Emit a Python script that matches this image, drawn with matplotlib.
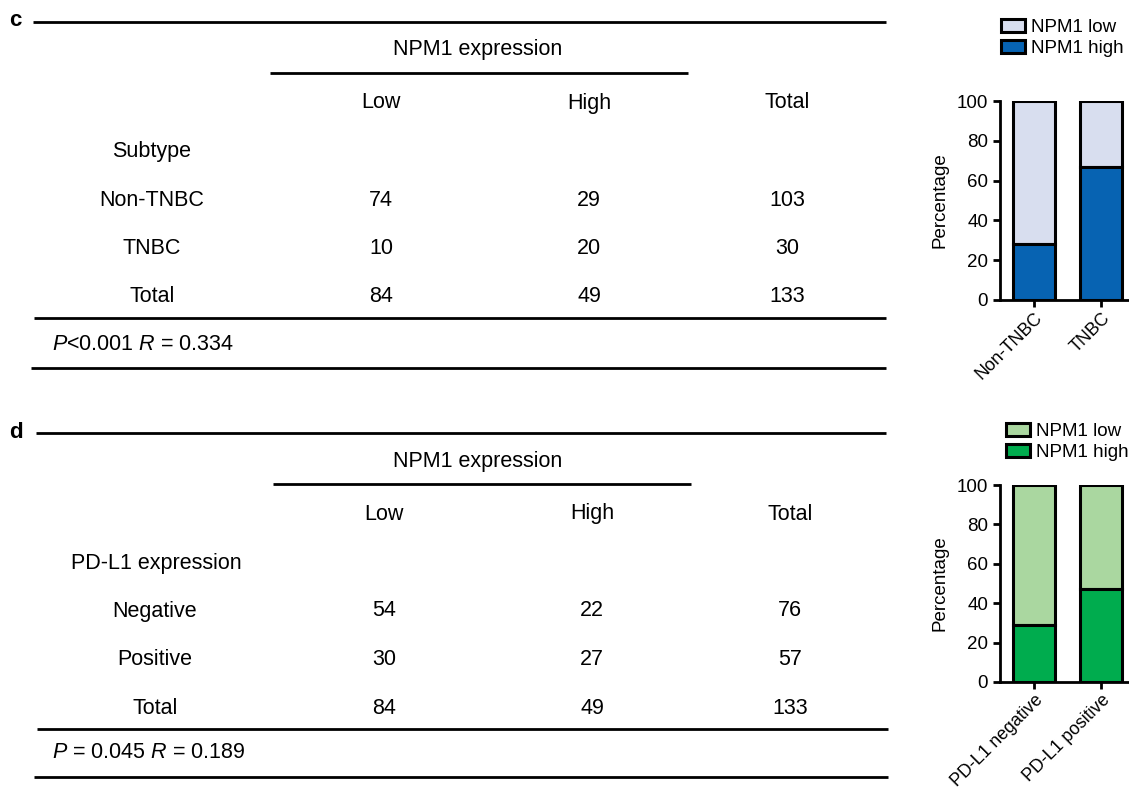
import matplotlib
matplotlib.use('Agg')
from matplotlib import pyplot as plt

plt.rcParams['font.family'] = ['Liberation Sans', 'DejaVu Sans']
plt.rcParams['font.size'] = 15.5
plt.rcParams['mathtext.fontset'] = 'custom'
plt.rcParams['mathtext.rm'] = 'Liberation Sans'
plt.rcParams['mathtext.it'] = 'Liberation Sans:italic'

# ---- data ----
col_labels = ['Low', 'High', 'Total']

c_group_title = 'Subtype'
c_rows = ['Non-TNBC', 'TNBC', 'Total']
c_low = [74, 10, 84]
c_high = [29, 20, 49]
c_total = [103, 30, 133]
c_stats = ('<0.001', '0.334')

d_group_title = 'PD-L1 expression'
d_rows = ['Negative', 'Positive', 'Total']
d_low = [54, 30, 84]
d_high = [22, 27, 49]
d_total = [76, 57, 133]
d_stats = (' = 0.045', '0.189')

c_bar_cats = ['Non-TNBC', 'TNBC']
c_pct_high = [28.2, 66.7]
c_pct_low = [71.8, 33.3]

d_bar_cats = ['PD-L1 negative', 'PD-L1 positive']
d_pct_high = [28.9, 47.4]
d_pct_low = [71.1, 52.6]

W, H = 1129, 790
fig = plt.figure(figsize=(W / 100, H / 100), dpi=100)
tab = fig.add_axes([0, 0, 1, 1])
tab.set_xlim(0, W)
tab.set_ylim(H, 0)
tab.axis('off')

LW = 2.0
SMALL = 13.5
BASE = 7.5  # from visual middle of capitals to baseline, px


def hline(y, x0, x1):
    tab.plot([x0, x1], [y, y], color='black', lw=LW, solid_capstyle='butt')


def txt(x, y, s, **kw):
    # y is the middle of the capital letters
    tab.text(x, y + BASE, s, va='baseline', **kw)


def draw_table(top, letter, group_title, row_names, lows, highs, totals, dx):
    # top = y of the top rule
    tab.text(9, top - 1, letter, fontsize=16, fontweight='bold', ha='left', va='center')
    hline(top, 33 + dx, 886)
    txt(478, top + 26, 'NPM1 expression', ha='center')
    hline(top + 51, 270 + dx, 688 + dx)
    col_x = [381 + dx, 589 + dx, 787 + dx]
    for x, lab in zip(col_x, col_labels):
        txt(x, top + 79, lab, ha='center')
    txt(152 + (4 if dx else 0), top + 128, group_title, ha='center')
    for i, name in enumerate(row_names):
        y = top + 176 + i * 48.5
        txt(152 + (3 if dx else 0), y, name, ha='center')
        for x, v in zip(col_x, [lows[i], highs[i], totals[i]]):
            txt(x, y, str(v), ha='center')


# panel c
draw_table(22, 'c', c_group_title, c_rows, c_low, c_high, c_total, 0)
hline(318, 34, 886)
txt(52, 343, r'$\it{P}$' + c_stats[0] + r' $\it{R}$ = ' + c_stats[1], ha='left')
hline(368, 31, 886)

# panel d
draw_table(433, 'd', d_group_title, d_rows, d_low, d_high, d_total, 3)
hline(729, 37, 888)
txt(52, 751, r'$\it{P}$' + d_stats[0] + r' $\it{R}$ = ' + d_stats[1], ha='left')
hline(777, 34, 888)


def bar_panel(left, top, bottom, cats, high, low, c_high_col, c_low_col, leg_y, leg_x):
    ax = fig.add_axes([left / W, 1 - bottom / H, (W - 1 - left) / W, (bottom - top) / H])
    xs = list(range(len(cats)))
    b_low = ax.bar(xs, low, bottom=high, width=0.63, color=c_low_col,
                   edgecolor='black', lw=2.2, label='NPM1 low')
    b_high = ax.bar(xs, high, width=0.63, color=c_high_col,
                    edgecolor='black', lw=2.2, label='NPM1 high')
    ax.set_ylim(0, 100)
    ax.set_xlim(-0.51, 1.40)
    ax.set_yticks([0, 20, 40, 60, 80, 100])
    ax.set_xticks(xs)
    ax.set_xticklabels(cats, rotation=45, ha='right', va='top', rotation_mode='anchor')
    for s in ['top', 'right']:
        ax.spines[s].set_visible(False)
    for s in ['left', 'bottom']:
        ax.spines[s].set_linewidth(2)
    ax.tick_params(axis='both', width=2, length=5, labelsize=SMALL)
    ax.tick_params(axis='x', pad=2, labelsize=12.8)
    ax.set_ylabel('Percentage', fontsize=SMALL, labelpad=6)
    ax.patch.set_alpha(0)
    fig.legend(handles=[b_low, b_high], loc='upper left',
               bbox_to_anchor=(leg_x / W, 1 - leg_y / H), bbox_transform=fig.transFigure,
               frameon=False, borderaxespad=0, borderpad=0, handlelength=1.3,
               handleheight=0.7, handletextpad=0.3, labelspacing=0.2, fontsize=SMALL)
    return ax


bar_panel(1000, 101, 300, c_bar_cats, c_pct_high, c_pct_low,
          '#0763B2', '#D8DEEF', 19, 1001)
bar_panel(1000, 485, 682, d_bar_cats, d_pct_high, d_pct_low,
          '#00AC4E', '#AAD7A0', 423, 1006)

plt.savefig('out.png', dpi=100)
plt.close()
